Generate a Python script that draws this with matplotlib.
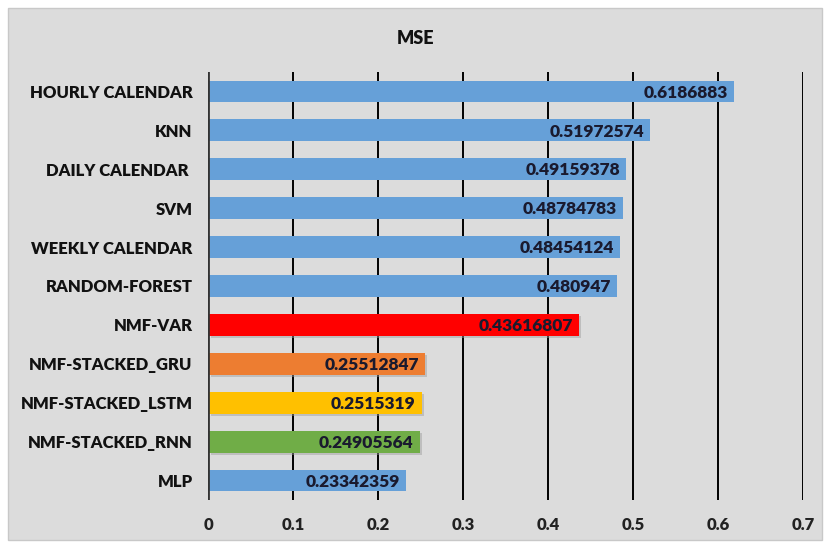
import matplotlib.pyplot as plt
from matplotlib.patches import Rectangle
import numpy as np

models = ['HOURLY CALENDAR', 'KNN', 'DAILY CALENDAR ', 'SVM', 'WEEKLY CALENDAR',
          'RANDOM-FOREST', 'NMF-VAR', 'NMF-STACKED_GRU', 'NMF-STACKED_LSTM',
          'NMF-STACKED_RNN', 'MLP']
mse = [0.6186883, 0.51972574, 0.49159378, 0.48784783, 0.48454124,
       0.480947, 0.43616807, 0.25512847, 0.2515319, 0.24905564, 0.23342359]
labels = ['0.6186883', '0.51972574', '0.49159378', '0.48784783', '0.48454124',
          '0.480947', '0.43616807', '0.25512847', '0.2515319', '0.24905564', '0.23342359']
xticks = [0, 0.1, 0.2, 0.3, 0.4, 0.5, 0.6, 0.7]

blue = '#66A0D8'
colors = [blue] * 6 + ['#FF0000', '#ED7D31', '#FFC000', '#70AD47', blue]

plt.rcParams['font.family'] = ['Lato', 'DejaVu Sans']

fig = plt.figure(figsize=(8.27, 5.48), dpi=100)
fig.patch.set_facecolor('white')
bg = Rectangle((8 / 827, 8 / 548), 814 / 827, 532 / 548,
               transform=fig.transFigure, facecolor='#DCDCDC',
               edgecolor='#C8C8C8', lw=1, zorder=-10)
fig.add_artist(bg)

ax = fig.add_axes([208 / 827, 1 - 500 / 548, 595 / 827, 428 / 548])
ax.set_facecolor('none')
ax.set_zorder(5)

y = np.arange(len(models))
# soft shadow under the coloured bars
for i in range(6, 10):
    ax.barh(y[i] + 0.06, mse[i], left=0.003, height=0.56, color='#9A9A9A',
            alpha=0.45, zorder=2)
ax.barh(y, mse, height=0.56, color=colors, zorder=3)

for i in range(len(models)):
    ax.text(mse[i] - 0.007, y[i] + 0.03, labels[i], ha='right', va='center',
            fontsize=12.5, fontweight='heavy', color='#1A1A2E', zorder=5)

ax.set_xlim(0, 0.7)
ax.set_ylim(len(models) - 0.5, -0.5)
ax.set_xticks(xticks)
ax.set_xticklabels([f'{t:g}' for t in xticks], fontsize=12, fontweight='heavy',
                   color='#222222')
ax.set_yticks(y)
ax.set_yticklabels(models, fontsize=12, fontweight='heavy', color='#111111')
ax.tick_params(axis='x', length=0, pad=12)
ax.tick_params(axis='y', length=0, pad=11)
ax.xaxis.grid(True, color='black', lw=1.4, zorder=1)
ax.set_axisbelow(True)
for s in ax.spines.values():
    s.set_visible(False)
ax.axvline(0, color='#333333', lw=2, zorder=4)

fig.text(415 / 827, 1 - 38 / 548, 'MSE', ha='center', va='center',
         fontsize=13, fontweight='heavy', color='#111111')

fig.savefig('out.png', dpi=100)
